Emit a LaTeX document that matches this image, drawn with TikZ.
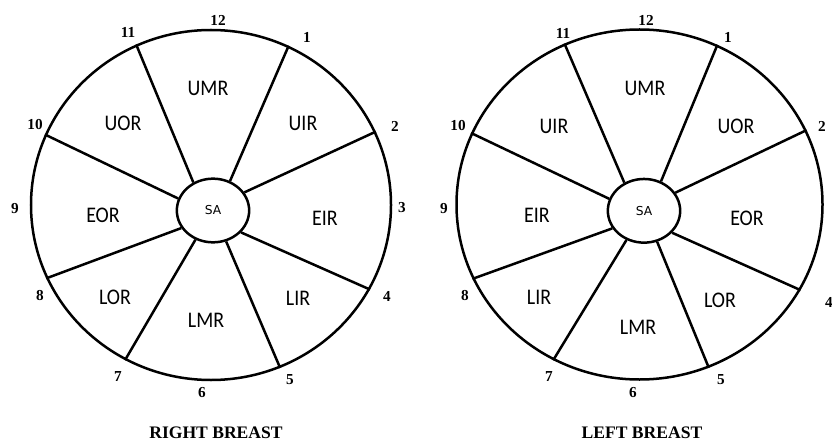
\documentclass[tikz,border=0pt]{standalone}
\usepackage{fontspec}
\usepackage{graphicx}
\setmainfont{Liberation Serif}
\newfontfamily\zonefont{Carlito}
\newfontfamily\hubfont{DejaVu Sans}
\newcommand{\tallzone}[1]{\scalebox{1}[1.12]{#1}}
\usetikzlibrary{shapes}

\begin{document}
\begin{tikzpicture}[x=0.3mm,y=-0.3mm,line width=0.75mm,
	rim/.style={draw,ellipse,inner sep=0pt,minimum height=105mm},
	hub/.style={draw,ellipse,inner sep=0pt,minimum width=21.7mm,minimum height=19.1mm,font=\hubfont\fontsize{10.5}{12}\selectfont},
	zone/.style={inner sep=0pt,font=\zonefont\fontsize{17}{19}\selectfont},
	hour/.style={inner sep=0pt,font=\bfseries\fontsize{13}{14}\selectfont},
	side/.style={inner sep=0pt,font=\bfseries\fontsize{15}{17}\selectfont}]
				\useasboundingbox (0,0) rectangle (832,443);
				% right breast
				\node[rim,minimum width=108mm] (right rim) at (211,205) {};
				\node[hub] (right sa) at (213,210.5) {SA};
				% left breast
				\node[rim,minimum width=109.8mm] (left rim) at (639.5,204.5) {};
				\node[hub] (left sa) at (644,210.8) {SA};
				% spokes
				\foreach \s in {right,left}
					\foreach \a/\b in {125/115,60/64,30/24,322/332,293/293,239/241,209/204,161/157}
						\draw (\s\space sa.\a) -- (\s\space rim.\b);
				% clock hours
				\foreach \h/\x/\y in {12/218/20,1/307/37,2/395/126,3/402/208,4/387/296,5/290/380,
						6/202/393,7/118/377,8/40/296,9/15/209,10/35/125,11/128/32}
					\node[hour] (r\h) at (\x,\y) {\h};
				\foreach \h/\x/\y in {12/646/20,1/728/37,2/822/126,4/829/302,5/721/380,
						6/633/393,7/549/377,8/465/296,9/444/209,10/458/126,11/563/33}
					\node[hour] (l\h) at (\x,\y) {\h};
				% zones
				\foreach \z/\x/\y in {UMR/208/88,UOR/123/123,UIR/303/123,EOR/103/215,
						EIR/325/218,LOR/115/297,LIR/298/298,LMR/206/320}
					\node[zone] (rz\z) at (\x,\y) {\tallzone{\z}};
				\foreach \z/\x/\y in {UMR/645/88,UIR/554/126,UOR/736/126,EIR/537/215,
						EOR/747/218,LIR/539/297,LOR/720/300,LMR/638/327}
					\node[zone] (lz\z) at (\x,\y) {\tallzone{\z}};
				\node[side] (right title) at (216,433) {RIGHT BREAST};
				\node[side] (left title) at (642,433) {LEFT BREAST};
\end{tikzpicture}
\end{document}
